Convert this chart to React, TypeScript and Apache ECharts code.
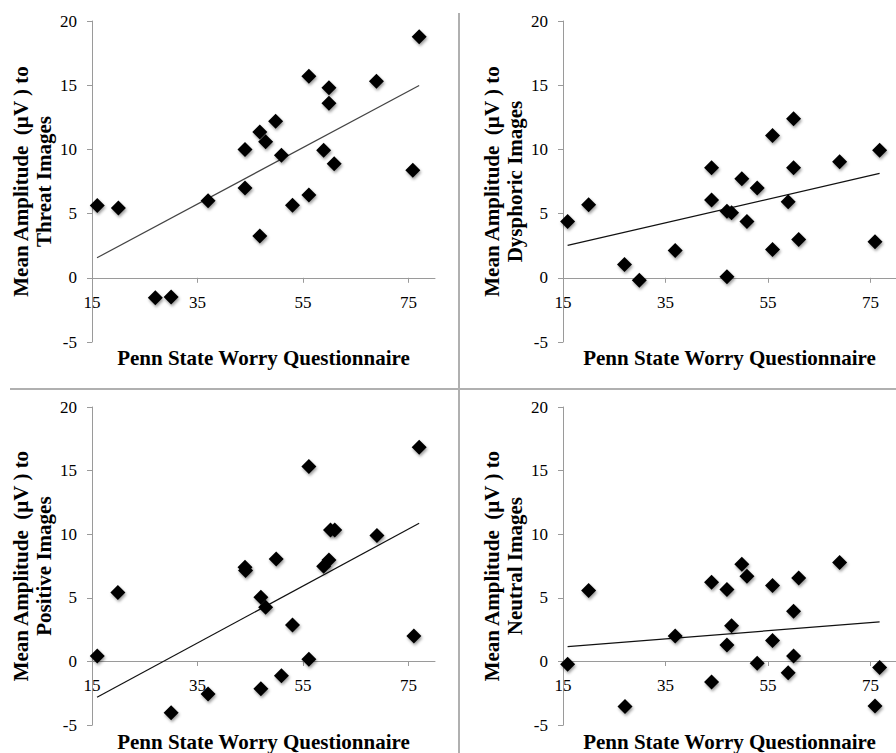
import React, { useEffect, useRef } from "react";
import * as echarts from "echarts";

const xTickValues = [15, 35, 55, 75];
const yTitleLines = ["Mean Amplitude  (µV ) to"];
const panelNames = ["Threat Images", "Dysphoric Images", "Positive Images", "Neutral Images"];
const xTitle = "Penn State Worry Questionnaire";

const threatX = [16, 20, 27, 30, 37, 44, 44, 46.8, 47.9, 46.8, 49.8, 50.9, 53, 56.1, 56.1, 58.9, 59.9, 59.9, 60.9, 68.9, 75.8, 77];
const threatY = [5.63, 5.43, -1.56, -1.5, 6.0, 10.0, 7.0, 11.35, 10.6, 3.25, 12.2, 9.55, 5.66, 15.7, 6.44, 9.94, 14.8, 13.6, 8.88, 15.3, 8.38, 18.77];
const threatTrend = [[15.95, 1.56], [77.0, 14.98]];

const dysphoricX = [15.9, 20, 27, 29.9, 36.9, 44, 44, 47, 47.9, 47, 49.9, 50.9, 52.9, 55.9, 55.9, 58.95, 60, 60, 61, 69, 75.9, 76.8];
const dysphoricY = [4.39, 5.69, 1.04, -0.2, 2.13, 8.57, 6.05, 5.19, 5.06, 0.08, 7.71, 4.39, 7.0, 11.08, 2.2, 5.92, 12.38, 8.57, 2.99, 9.03, 2.8, 9.94];
const dysphoricTrend = [[15.9, 2.52], [76.8, 8.13]];

const positiveX = [16, 19.9, 30, 37, 44, 44.1, 47, 47.9, 47, 49.9, 50.9, 53, 56.1, 56.1, 58.9, 59.9, 60.2, 61, 69, 76, 77];
const positiveY = [0.44, 5.43, -4.03, -2.55, 7.4, 7.15, 5.06, 4.26, -2.13, 8.05, -1.12, 2.88, 15.32, 0.18, 7.48, 7.97, 10.34, 10.34, 9.9, 2.0, 16.83];
const positiveTrend = [[15.95, -2.8], [77.0, 10.86]];

const neutralX = [15.9, 20, 27.1, 36.9, 44, 44, 47, 47.9, 47, 49.9, 50.9, 52.9, 55.9, 55.9, 58.95, 60, 60, 61, 69, 75.9, 76.8];
const neutralY = [-0.21, 5.58, -3.53, 2.0, 6.23, -1.61, 5.66, 2.81, 1.3, 7.64, 6.7, -0.13, 5.97, 1.66, -0.88, 3.95, 0.44, 6.57, 7.79, -3.5, -0.47];
const neutralTrend = [[15.9, 1.17], [76.8, 3.12]];

const trendColors = ["#444", "#111", "#111", "#111"];

const panels = [
  { xs: threatX, ys: threatY, trend: threatTrend },
  { xs: dysphoricX, ys: dysphoricY, trend: dysphoricTrend },
  { xs: positiveX, ys: positiveY, trend: positiveTrend },
  { xs: neutralX, ys: neutralY, trend: neutralTrend },
];

const FONT = '"Liberation Serif", "Times New Roman", serif';
const AXIS_GRAY = "#9a9a9a";
const Y_MIN = -5;
const Y_MAX = 20;

const gridBoxes = [
  { left: 92, top: 21, width: 343, height: 321 },
  { left: 563, top: 21, width: 345, height: 321 },
  { left: 92, top: 407, width: 343, height: 321 },
  { left: 563, top: 407, width: 345, height: 321 },
];

export default function App() {
  const ref = useRef<HTMLDivElement>(null);

  useEffect(() => {
    if (!ref.current) return;
    const chart = echarts.init(ref.current, null, { renderer: "svg" });

    const grid = gridBoxes.map((g) => ({ ...g, containLabel: false }));
    // place the x axis line at y = 0 of the value axis
    const xAxis = gridBoxes.map((g, i) => ({
      type: "value",
      gridIndex: i,
      min: 15,
      max: 80,
      interval: 20,
      position: "bottom",
      offset: -(g.height * (0 - Y_MIN)) / (Y_MAX - Y_MIN),
      name: xTitle,
      nameLocation: "middle",
      nameGap: 70,
      nameTextStyle: { fontFamily: FONT, fontWeight: "bold", fontSize: 21, color: "#000" },
      axisLine: { onZero: false, lineStyle: { color: AXIS_GRAY, width: 1 } },
      axisTick: { show: true, inside: false, length: 5, customValues: xTickValues, lineStyle: { color: AXIS_GRAY } },
      axisLabel: { customValues: xTickValues, margin: 16, fontFamily: FONT, fontSize: 17, color: "#000" },
      splitLine: { show: false },
    }));
    const yAxis = gridBoxes.map((_, i) => ({
      type: "value",
      gridIndex: i,
      min: Y_MIN,
      max: Y_MAX,
      interval: 5,
      name: yTitleLines[0] + "\n" + panelNames[i],
      nameLocation: "middle",
      nameRotate: 90,
      nameGap: 37,
      nameTextStyle: { fontFamily: FONT, fontWeight: "bold", fontSize: 21, lineHeight: 23, color: "#000", align: "center" },
      axisLine: { onZero: false, lineStyle: { color: AXIS_GRAY, width: 1 } },
      axisTick: { show: true, inside: false, length: 5, lineStyle: { color: AXIS_GRAY } },
      axisLabel: { margin: 15, fontFamily: FONT, fontSize: 17, color: "#000" },
      splitLine: { show: false },
    }));

    const series: any[] = [];
    panels.forEach((p, i) => {
      series.push({
        type: "line",
        xAxisIndex: i,
        yAxisIndex: i,
        data: p.trend,
        symbol: "none",
        lineStyle: { color: trendColors[i], width: 1.2 },
        silent: true,
        z: 2,
      });
      series.push({
        type: "scatter",
        xAxisIndex: i,
        yAxisIndex: i,
        data: p.xs.map((x, k) => [x, p.ys[k]]),
        symbol: "diamond",
        symbolSize: 15,
        itemStyle: {
          color: "#000",
          opacity: 1,
          shadowBlur: 3,
          shadowColor: "rgba(0,0,0,0.4)",
          shadowOffsetX: 1,
          shadowOffsetY: 2,
        },
        z: 3,
      });
    });

    chart.setOption({
      animation: false,
      backgroundColor: "#fff",
      grid,
      xAxis,
      yAxis,
      series,
      graphic: [
        { type: "line", shape: { x1: 459, y1: 13, x2: 459, y2: 753 }, style: { stroke: "#b0b0b0", lineWidth: 2 } },
        { type: "line", shape: { x1: 10, y1: 389, x2: 896, y2: 389 }, style: { stroke: "#b0b0b0", lineWidth: 2 } },
      ],
    });

    return () => chart.dispose();
  }, []);

  return (
    <div
      ref={ref}
      style={{ position: "absolute", left: 0, top: 0, width: 896, height: 753, background: "#fff" }}
    />
  );
}
